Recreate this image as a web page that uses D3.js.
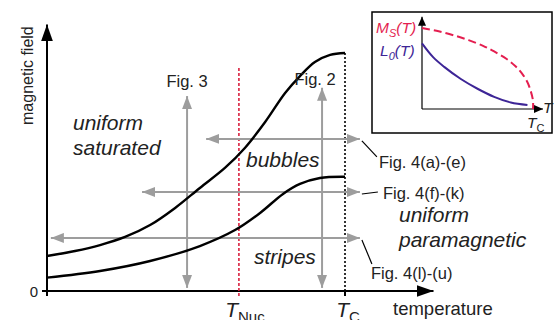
<!DOCTYPE html>
<html>
<head>
<meta charset="utf-8">
<script src="https://cdn.jsdelivr.net/npm/d3@7"></script>
<style>
  body { margin: 0; background: #fff; }
  svg { display: block; font-family: "Liberation Sans", Arial, sans-serif; }
</style>
</head>
<body>
<div id="chart"></div>
<script>
// phase boundaries, temperature in units of T_C, field in units of the max boundary field
const upperT = [0, 0.094, 0.178, 0.262, 0.346, 0.430, 0.513, 0.597, 0.664, 0.732, 0.799, 0.849, 0.899, 0.950, 1];
const upperH = [0.147, 0.168, 0.193, 0.227, 0.277, 0.349, 0.433, 0.517, 0.601, 0.710, 0.832, 0.903, 0.962, 0.992, 1];
const lowerT = [0, 0.178, 0.346, 0.513, 0.631, 0.715, 0.792, 0.849, 0.916, 1];
const lowerH = [0.056, 0.084, 0.126, 0.189, 0.256, 0.328, 0.408, 0.450, 0.475, 0.480];

const tNuc = 0.644;
const tC = 1;

// measurement paths (double arrows)
const vArrowLabels = ['Fig. 3', 'Fig. 2'];
const vArrowT = [0.470, 0.923];
const vArrowH = [[0.013, 0.819], [0.013, 0.854]];
const hArrowLabels = ['Fig. 4(a)-(e)', 'Fig. 4(f)-(k)', 'Fig. 4(l)-(u)'];
const hArrowH = [0.639, 0.416, 0.223];
const hArrowT = [[0.534, 1.05], [0.319, 1.05], [0.013, 1.05]];

// inset: Ms(T) and L0(T), T in units of T_C
const msT = [0, 0.15, 0.31, 0.42, 0.55, 0.65, 0.76, 0.84, 0.9, 0.95, 0.98, 1, 1];
const msV = [1, 0.96, 0.90, 0.85, 0.78, 0.71, 0.62, 0.53, 0.44, 0.33, 0.22, 0.10, 0];
const l0T = [0, 0.10, 0.20, 0.35, 0.50, 0.65, 0.80, 0.95];
const l0V = [0.81, 0.64, 0.52, 0.37, 0.25, 0.15, 0.08, 0.05];

const W = 557, H = 320;
const svg = d3.select('#chart').append('svg').attr('width', W).attr('height', H);

const x = d3.scaleLinear().domain([0, 1]).range([47, 345]);
const y = d3.scaleLinear().domain([0, 1]).range([291, 53]);

const gray = '#9d9d9d';
const red = '#d9213f';

const defs = svg.append('defs');
function marker(id, color, len, wid) {
  defs.append('marker')
    .attr('id', id)
    .attr('markerUnits', 'userSpaceOnUse')
    .attr('viewBox', `0 0 ${len} ${wid}`)
    .attr('refX', len).attr('refY', wid / 2)
    .attr('markerWidth', len).attr('markerHeight', wid)
    .attr('orient', 'auto-start-reverse')
    .append('path')
    .attr('d', `M0,0 L${len},${wid / 2} L0,${wid} Z`)
    .attr('fill', color);
}
marker('ga', gray, 13, 10);
marker('ba', '#000', 17, 12);
marker('sa', '#000', 9, 8);

// ---- main axes
svg.append('line')
  .attr('x1', x(0)).attr('x2', x(0))
  .attr('y1', y(0) + 5).attr('y2', y(1.12))
  .attr('stroke', '#000').attr('stroke-width', 2)
  .attr('marker-end', 'url(#ba)');
svg.append('line')
  .attr('x1', x(0) - 5).attr('x2', x(1.297))
  .attr('y1', y(0)).attr('y2', y(0))
  .attr('stroke', '#000').attr('stroke-width', 2)
  .attr('marker-end', 'url(#ba)');
svg.append('line')
  .attr('x1', x(tC)).attr('x2', x(tC))
  .attr('y1', y(0)).attr('y2', y(0) + 5)
  .attr('stroke', '#000').attr('stroke-width', 2);
svg.append('text')
  .attr('x', x(0) - 9).attr('y', y(0) + 6)
  .attr('text-anchor', 'end')
  .attr('font-size', 15).attr('fill', '#222')
  .text('0');

svg.append('text')
  .attr('transform', `translate(33,${y(0.905)}) rotate(-90)`)
  .attr('text-anchor', 'middle')
  .attr('font-size', 16).attr('fill', '#222')
  .text('magnetic field');
svg.append('text')
  .attr('x', 393).attr('y', 315)
  .attr('font-size', 18.5).attr('fill', '#222')
  .text('temperature');

// T_Nuc and T_C markers
svg.append('line')
  .attr('x1', x(tNuc)).attr('x2', x(tNuc))
  .attr('y1', y(0) + 5).attr('y2', y(0.94))
  .attr('stroke', red).attr('stroke-width', 1.6)
  .attr('stroke-dasharray', '3,2');
svg.append('line')
  .attr('x1', x(tC)).attr('x2', x(tC))
  .attr('y1', y(0)).attr('y2', y(1))
  .attr('stroke', '#000').attr('stroke-width', 1.6)
  .attr('stroke-dasharray', '2,2');

function subLabel(px, main, sub) {
  const t = svg.append('text')
    .attr('x', px).attr('y', 317)
    .attr('font-size', 21).attr('fill', '#222')
    .attr('text-anchor', 'middle');
  t.append('tspan').attr('font-style', 'italic').text(main);
  t.append('tspan').attr('font-size', 15).attr('dy', 5).text(sub);
}
subLabel(x(tNuc) + 6, 'T', 'Nuc');
subLabel(x(tC) + 3, 'T', 'C');

// ---- gray measurement arrows
vArrowT.forEach((t, i) => {
  svg.append('line')
    .attr('x1', x(t)).attr('x2', x(t))
    .attr('y1', y(vArrowH[i][0])).attr('y2', y(vArrowH[i][1]))
    .attr('stroke', gray).attr('stroke-width', 2)
    .attr('marker-start', 'url(#ga)')
    .attr('marker-end', 'url(#ga)');
});
hArrowH.forEach((h, i) => {
  svg.append('line')
    .attr('x1', x(hArrowT[i][0])).attr('x2', x(hArrowT[i][1]))
    .attr('y1', y(h)).attr('y2', y(h))
    .attr('stroke', gray).attr('stroke-width', 2)
    .attr('marker-start', 'url(#ga)')
    .attr('marker-end', 'url(#ga)');
});

// ---- phase boundaries
const line = d3.line()
  .x(d => x(d[0])).y(d => y(d[1]))
  .curve(d3.curveCatmullRom.alpha(0.5));
svg.append('path')
  .attr('d', line(d3.zip(upperT, upperH)))
  .attr('fill', 'none').attr('stroke', '#000').attr('stroke-width', 2.4);
svg.append('path')
  .attr('d', line(d3.zip(lowerT, lowerH)))
  .attr('fill', 'none').attr('stroke', '#000').attr('stroke-width', 2.4);

// ---- arrow labels
svg.append('text')
  .attr('x', x(vArrowT[0])).attr('y', 87)
  .attr('text-anchor', 'middle').attr('font-size', 16.5).attr('fill', '#222')
  .text(vArrowLabels[0]);
svg.append('text')
  .attr('x', x(vArrowT[1]) - 7).attr('y', 85)
  .attr('text-anchor', 'middle').attr('font-size', 16.5).attr('fill', '#222')
  .text(vArrowLabels[1]);

const leaderEnd = [[15, 16], [16, -2], [10, 24]];
const labelPos = [[17, 27], [21, 5], [9, 39]];
hArrowH.forEach((h, i) => {
  const x0 = x(hArrowT[i][1]) + 2;
  const y0 = y(h) + 2;
  svg.append('line')
    .attr('x1', x0).attr('y1', y0)
    .attr('x2', x0 + leaderEnd[i][0]).attr('y2', y0 + leaderEnd[i][1])
    .attr('stroke', '#000').attr('stroke-width', 1.2);
  svg.append('text')
    .attr('x', x0 + labelPos[i][0]).attr('y', y0 + labelPos[i][1])
    .attr('font-size', 16.5).attr('fill', '#222')
    .text(hArrowLabels[i]);
});

// ---- region labels
function region(px, py, lines) {
  const t = svg.append('text')
    .attr('font-size', 21).attr('font-style', 'italic').attr('fill', '#222');
  lines.forEach((s, k) => {
    t.append('tspan').attr('x', px).attr('y', py + k * 25).text(s);
  });
}
region(73, 130, ['uniform', 'saturated']);
region(246, 167, ['bubbles']);
region(254, 264, ['stripes']);
region(399, 222, ['uniform', 'paramagnetic']);

// ---- inset
const inset = svg.append('g');
inset.append('rect')
  .attr('x', 372).attr('y', 12).attr('width', 180).attr('height', 121)
  .attr('fill', '#fff').attr('stroke', '#000').attr('stroke-width', 1.5);

const ix = d3.scaleLinear().domain([0, 1]).range([422, 533]);
const iy = d3.scaleLinear().domain([0, 1]).range([109, 28]);

inset.append('line')
  .attr('x1', ix(0)).attr('x2', ix(0)).attr('y1', iy(0)).attr('y2', iy(1.14))
  .attr('stroke', '#000').attr('stroke-width', 1.2).attr('marker-end', 'url(#sa)');
inset.append('line')
  .attr('x1', ix(0)).attr('x2', ix(1.09)).attr('y1', iy(0)).attr('y2', iy(0))
  .attr('stroke', '#000').attr('stroke-width', 1.2).attr('marker-end', 'url(#sa)');

const iline = d3.line().x(d => ix(d[0])).y(d => iy(d[1])).curve(d3.curveCatmullRom.alpha(0.5));
inset.append('path')
  .attr('d', iline(d3.zip(msT, msV)))
  .attr('fill', 'none').attr('stroke', '#e41e4f').attr('stroke-width', 2)
  .attr('stroke-dasharray', '8,4');
inset.append('path')
  .attr('d', iline(d3.zip(l0T, l0V)))
  .attr('fill', 'none').attr('stroke', '#3d2596').attr('stroke-width', 2);

function insetLabel(px, py, color, main, sub) {
  const t = inset.append('text')
    .attr('x', px).attr('y', py)
    .attr('font-size', 15.5).attr('font-style', 'italic').attr('fill', color);
  t.append('tspan').text(main);
  if (sub) {
    t.append('tspan').attr('font-size', 11).attr('dy', 4).text(sub);
    t.append('tspan').attr('dy', -4).text('(T)');
  }
}
insetLabel(376, 33, '#e41e4f', 'M', 'S');
insetLabel(380, 56, '#3d2596', 'L', '0');
insetLabel(543, 113, '#222', 'T');
const tc = inset.append('text')
  .attr('x', 527).attr('y', 128)
  .attr('font-size', 15.5).attr('fill', '#222');
tc.append('tspan').attr('font-style', 'italic').text('T');
tc.append('tspan').attr('font-size', 11).attr('dy', 4).text('C');
</script>
</body>
</html>
